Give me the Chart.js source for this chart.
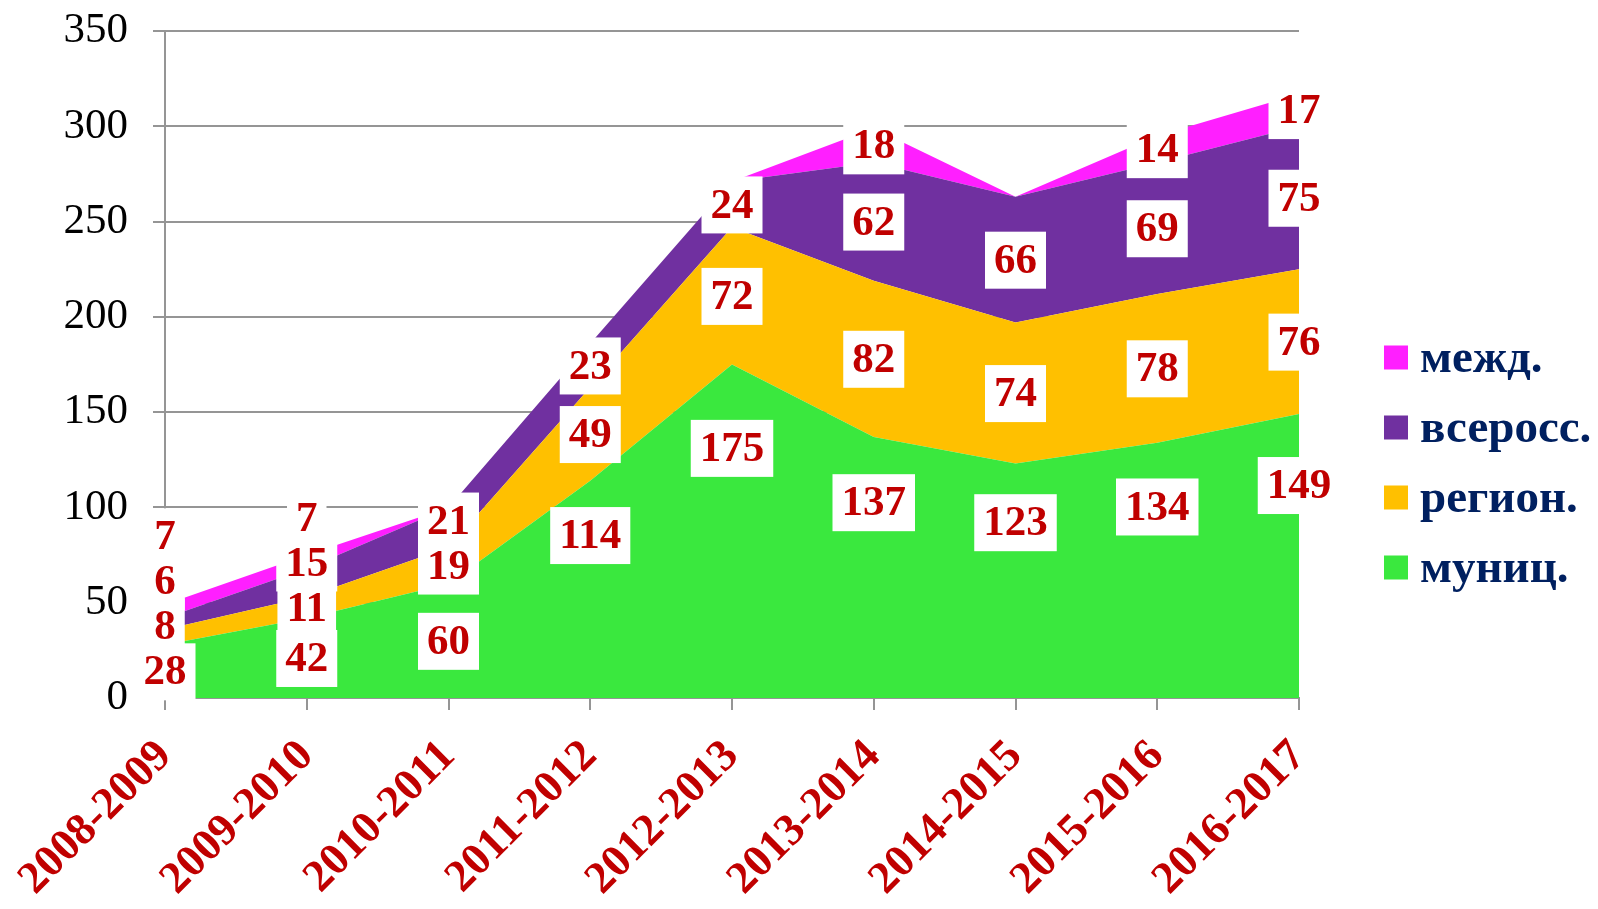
<!DOCTYPE html>
<html>
<head>
<meta charset="utf-8">
<script src="https://cdn.jsdelivr.net/npm/chart.js@4.4.1/dist/chart.umd.min.js"></script>
<style>
    body { margin: 0; background: #fff; }
    #wrap { width: 1598px; height: 909px; position: relative; }
</style>
</head>
<body>
<div id="wrap"><canvas id="areaChart"></canvas></div>
<script>
// Data
const categories = ['2008-2009', '2009-2010', '2010-2011', '2011-2012', '2012-2013',
                    '2013-2014', '2014-2015', '2015-2016', '2016-2017'];
const seriesNames = ['муниц.', 'регион.', 'всеросс.', 'межд.'];
const municipal = [28, 42, 60, 114, 175, 137, 123, 134, 149];
const regional = [8, 11, 19, 49, 72, 82, 74, 78, 76];
const national = [6, 15, 21, 23, 24, 62, 66, 69, 75];
const international = [7, 7, null, null, null, 18, null, 14, 17];
const yTicks = [0, 50, 100, 150, 200, 250, 300, 350];

const seriesValues = [municipal, regional, national, international];
const seriesColors = ['#3AE83E', '#FFC000', '#7030A0', '#FF1FFF'];

const SERIF = '"Liberation Serif", "Times New Roman", serif';
const GRID = '#959595';

// Data labels in white boxes, roughly where Excel puts them
const areaLabels = {
    id: 'areaLabels',
    afterDatasetsDraw(chart) {
        const ctx = chart.ctx;
        const xs = chart.scales.x;
        const ys = chart.scales.y;
        const items = [];
        ctx.save();
        ctx.font = 'bold 43px ' + SERIF;
        categories.forEach((c, j) => {
            let base = 0;
            let prevY = Infinity;
            seriesValues.forEach((vals, i) => {
                const v = vals[j];
                if (v == null) return;
                const top = base + v;
                const yTop = ys.getPixelForValue(top);
                const yBot = ys.getPixelForValue(base);
                const t = yBot - yTop;
                const frac = (i === 0 && t > 150) ? 0.75 : 0.5;
                let cy = Math.min(yBot - t * frac, prevY - 45);
                prevY = cy;
                items.push({ x: xs.getPixelForValue(j), y: cy, text: String(v) });
                base = top;
            });
        });
        // boxes first, then text so no box hides a number
        ctx.fillStyle = '#ffffff';
        items.forEach(it => {
            const w = ctx.measureText(it.text).width + 18;
            ctx.fillRect(it.x - w / 2, it.y - 28, w, 57);
        });
        ctx.fillStyle = '#C00000';
        ctx.textAlign = 'center';
        ctx.textBaseline = 'middle';
        items.forEach(it => ctx.fillText(it.text, it.x, it.y + 2));
        ctx.restore();
    }
};

// Legend on the right, top series first
const sideLegend = {
    id: 'sideLegend',
    afterDraw(chart) {
        const ctx = chart.ctx;
        const n = seriesNames.length;
        const step = 70;
        const x0 = chart.chartArea.right + 85;
        const y0 = chart.height / 2 + 8 - (n - 1) * step / 2;
        ctx.save();
        ctx.font = 'bold 47px ' + SERIF;
        ctx.textBaseline = 'middle';
        ctx.textAlign = 'left';
        for (let k = 0; k < n; k++) {
            const i = n - 1 - k;
            const cy = y0 + k * step;
            ctx.fillStyle = seriesColors[i];
            ctx.fillRect(x0, cy - 12, 24, 24);
            ctx.fillStyle = '#002060';
            ctx.fillText(seriesNames[i], x0 + 36, cy + 2);
        }
        ctx.restore();
    }
};

document.addEventListener('DOMContentLoaded', function() {
    const ctx = document.getElementById('areaChart');
    new Chart(ctx, {
        type: 'line',
        data: {
            labels: categories,
            datasets: seriesValues.map((vals, i) => ({
                label: seriesNames[i],
                data: vals.map(v => v == null ? 0 : v),
                backgroundColor: seriesColors[i],
                borderWidth: 0,
                pointRadius: 0,
                tension: 0,
                fill: i === 0 ? 'origin' : '-1'
            }))
        },
        options: {
            responsive: true,
            maintainAspectRatio: false,
            animation: false,
            layout: { padding: { top: 31, right: 299, left: 0, bottom: 0 } },
            plugins: {
                legend: { display: false },
                tooltip: { enabled: false }
            },
            scales: {
                x: {
                    offset: false,
                    grid: { drawOnChartArea: false, drawTicks: true, tickLength: 12, color: GRID, lineWidth: 2 },
                    border: { color: GRID, width: 2 },
                    ticks: {
                        maxRotation: 45,
                        minRotation: 45,
                        autoSkip: false,
                        padding: 20,
                        color: '#C00000',
                        font: { family: SERIF, size: 45, weight: 'bold' }
                    },
                    afterFit: s => { s.height = 211; s.paddingLeft = 0; s.paddingRight = 0; }
                },
                y: {
                    stacked: true,
                    min: 0,
                    max: 350,
                    afterBuildTicks: s => { s.ticks = yTicks.map(v => ({ value: v })); },
                    grid: { color: GRID, lineWidth: 2, tickLength: 12 },
                    border: { color: GRID, width: 2 },
                    ticks: {
                        padding: 25,
                        color: '#000000',
                        font: { family: SERIF, size: 43 }
                    },
                    afterFit: s => { s.width = 165; s.paddingTop = 0; s.paddingBottom = 0; }
                }
            }
        },
        plugins: [areaLabels, sideLegend]
    });
});
</script>
</body>
</html>
